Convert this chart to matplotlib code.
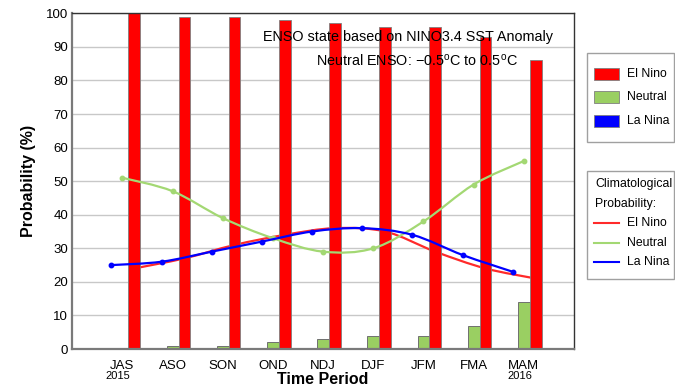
import numpy as np
import matplotlib
matplotlib.use("Agg")
import matplotlib.pyplot as plt
from matplotlib.path import Path
from matplotlib.patches import PathPatch, Rectangle
from matplotlib.lines import Line2D

plt.rcParams['font.family'] = ['Liberation Sans', 'DejaVu Sans']
plt.rcParams['mathtext.fontset'] = 'custom'
plt.rcParams['mathtext.rm'] = 'Liberation Sans'
plt.rcParams['mathtext.it'] = 'Liberation Sans:italic'

# ---------------- data ----------------
periods = ["JAS", "ASO", "SON", "OND", "NDJ", "DJF", "JFM", "FMA", "MAM"]
years = {"JAS": "2015", "MAM": "2016"}
elnino_prob = [100, 99, 99, 98, 97, 96, 96, 93, 86]
neutral_prob = [0, 1, 1, 2, 3, 4, 4, 7, 14]
lanina_prob = [0, 0, 0, 0, 0, 0, 0, 0, 0]
clim_elnino = [24, 27, 31, 34, 36, 35, 29, 24, 21]
clim_neutral = [51, 47, 39, 33, 29, 30, 38, 49, 56]
clim_lanina = [25, 26, 29, 32, 35, 36, 34, 28, 23]

RED = '#FF0000'
GREEN_BAR = '#9ACF62'
BLUE = '#0000FF'
RED_LINE = '#FF2A2A'
GREEN_LINE = '#A3D873'

W, H = 675, 386
fig = plt.figure(figsize=(W / 100, H / 100), dpi=100)

def fx(px):
    return px / W

def fy(py):
    return 1 - py / H

ax = fig.add_axes([fx(72.3), fy(349), fx(574) - fx(72.3), fy(13.3) - fy(349)])

x = np.arange(len(periods))
bw = 0.235
ax.bar(x - 0.235, lanina_prob, width=bw, color=BLUE, edgecolor='#808080', linewidth=0.6, zorder=2)
ax.bar(x, neutral_prob, width=bw, color=GREEN_BAR, edgecolor='#707070', linewidth=0.7, zorder=2)
ax.bar(x + 0.235, elnino_prob, width=bw, color=RED, edgecolor='#808080', linewidth=0.6, zorder=2)


def smooth(ax, xs, ys, color, z):
    pts = np.column_stack([xs, ys]).astype(float)
    n = len(pts)
    verts = [tuple(pts[0])]
    codes = [Path.MOVETO]
    for i in range(n - 1):
        p0 = pts[max(i - 1, 0)]
        p1 = pts[i]
        p2 = pts[i + 1]
        p3 = pts[min(i + 2, n - 1)]
        c1 = p1 + (p2 - p0) / 6.0
        c2 = p2 - (p3 - p1) / 6.0
        verts += [tuple(c1), tuple(c2), tuple(p2)]
        codes += [Path.CURVE4] * 3
    ax.add_patch(PathPatch(Path(verts, codes), fill=False, edgecolor=color,
                           linewidth=1.6, zorder=z, capstyle='round'))

smooth(ax, x + 0.235, clim_elnino, RED_LINE, 1.5)
smooth(ax, x, clim_neutral, GREEN_LINE, 3)
ax.plot(x, clim_neutral, 'o', color=GREEN_LINE, ms=3.2, zorder=3)
smooth(ax, x - 0.22, clim_lanina, BLUE, 3.2)
ax.plot(x - 0.22, clim_lanina, 'o', color=BLUE, ms=3.2, zorder=3.2)

ax.set_xlim(-1, 9)
ax.set_ylim(0, 100)
ax.set_yticks(np.arange(0, 101, 10))
ax.set_xticks(x)
ax.set_xticklabels(periods)
ax.tick_params(axis='both', length=0, labelsize=9.5, colors='#000000')
ax.tick_params(axis='x', pad=8)
ax.tick_params(axis='y', pad=3)
ax.yaxis.grid(True, color='#C8C8C8', linewidth=1)
ax.set_axisbelow(True)
for s in ['left', 'bottom']:
    ax.spines[s].set_color('#7A7A7A')
    ax.spines[s].set_linewidth(1.6)
for s in ['top', 'right']:
    ax.spines[s].set_color('#333333')
    ax.spines[s].set_linewidth(1.0)

for i, p in enumerate(periods):
    if p in years:
        ax.text(i - 0.085, -0.0795, years[p], transform=ax.get_xaxis_transform(),
                ha='center', va='center', fontsize=8)

fig.text(fx(323), fy(379), 'Time Period', ha='center', va='center',
         fontsize=11.5, fontweight='bold')
fig.text(fx(29), fy(181), 'Probability (%)', ha='center', va='center',
         rotation=90, fontsize=11.5, fontweight='bold')

fig.text(fx(408), fy(36.7), 'ENSO state based on NINO3.4 SST Anomaly',
         ha='center', va='center', fontsize=10.4)
fig.text(fx(417), fy(61), r'Neutral ENSO: $-$0.5$^{\rm o}$C to 0.5$^{\rm o}$C',
         ha='center', va='center', fontsize=10.4)

# ---------------- legends ----------------
LFS = 8.8

def box(x0, y0, x1, y1):
    fig.patches.append(Rectangle((fx(x0), fy(y1)), fx(x1) - fx(x0), fy(y0) - fy(y1),
                                 transform=fig.transFigure, facecolor='white',
                                 edgecolor='#A0A0A0', linewidth=1.0))

box(587, 53, 674, 142)
for yc, col, lab in [(74, RED, 'El Nino'), (97, GREEN_BAR, 'Neutral'), (121, BLUE, 'La Nina')]:
    fig.patches.append(Rectangle((fx(594), fy(yc + 6)), fx(619) - fx(594), fy(yc - 6) - fy(yc + 6),
                                 transform=fig.transFigure, facecolor=col,
                                 edgecolor='#808080', linewidth=0.6))
    fig.text(fx(627), fy(yc), lab, ha='left', va='center', fontsize=LFS)

box(587, 171, 674, 279)
fig.text(fx(595), fy(184), 'Climatological', ha='left', va='center', fontsize=LFS)
fig.text(fx(595), fy(203.5), 'Probability:', ha='left', va='center', fontsize=LFS)
for yc, col, lab in [(223.3, RED_LINE, 'El Nino'), (242.7, GREEN_LINE, 'Neutral'), (262.3, BLUE, 'La Nina')]:
    fig.lines.append(Line2D([fx(594), fx(619)], [fy(yc), fy(yc)], transform=fig.transFigure,
                            color=col, linewidth=1.5))
    fig.text(fx(627), fy(yc), lab, ha='left', va='center', fontsize=LFS)

fig.savefig('out.png', dpi=100)
